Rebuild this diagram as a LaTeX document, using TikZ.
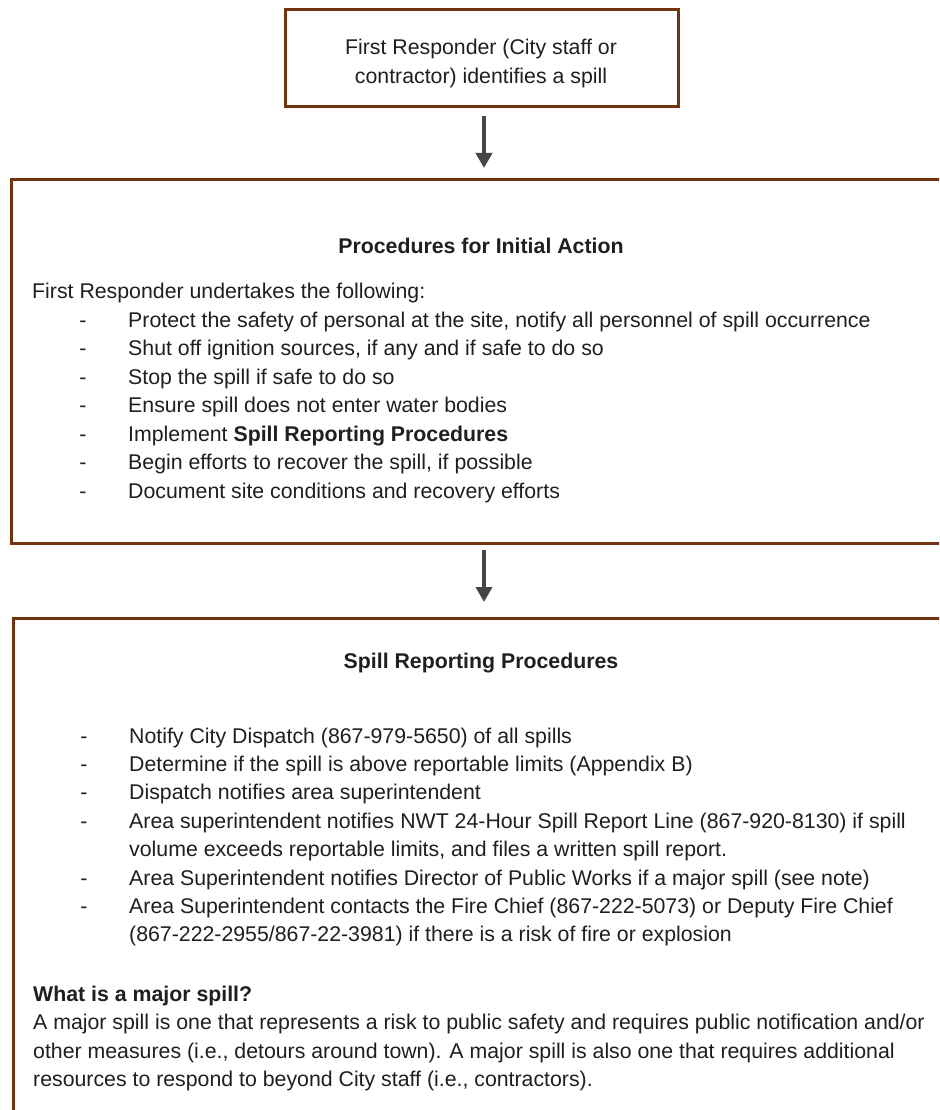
\documentclass[tikz,border=0pt]{standalone}
\usepackage{fontspec}
\setmainfont{Liberation Sans}
\usepackage{xcolor}
\usetikzlibrary{arrows.meta,positioning,calc}
\definecolor{boxbrown}{RGB}{112,52,16}
\definecolor{arrgray}{RGB}{70,70,70}

\begin{document}
\begin{tikzpicture}[x=1pt,y=-1pt,>=Stealth]
\tikzstyle{box}=[draw=boxbrown,line width=2.6pt,inner sep=0pt,anchor=north west]
\tikzstyle{t}=[inner sep=0pt,anchor=base west,text=black!88,font=\fontsize{21.3}{28.5}\selectfont]
\tikzstyle{tc}=[t,anchor=base]
\tikzstyle{bul}=[t,anchor=base]
\tikzstyle{arr}=[-{Triangle[width=16pt,length=15pt]},line width=3.6pt,draw=arrgray,fill=arrgray]
\useasboundingbox (0,0) rectangle (939,1110);
\fill[white] (0,0) rectangle (939,1110);
\clip (0,0) rectangle (939,1110);
\node[box,minimum width=393pt,minimum height=97pt] (top) at (284,8) {};
\node[box,minimum width=960pt,minimum height=364pt] (mid) at (10,178) {};
\node[box,minimum width=960pt,minimum height=540pt] (bot) at (12,617) {};
\coordinate (ax) at (484,0);
\draw[arr,shorten <=8pt,shorten >=10pt] (top.south -| ax) -- (mid.north -| ax);
\draw[arr,shorten <=5pt,shorten >=15pt] (mid.south -| ax) -- (bot.north -| ax);
\node[tc] (s1) at (481,55) {First Responder (City staff or};
\node[tc] (s2) at (481,84) {contractor) identifies a spill};
\node[tc] (ptitle) at (481,253) {\textbf{Procedures for Initial Action}};
\node[t] (intro) at (32,298) {First Responder undertakes the following:};
\node[bul] (d1) at (83,327) {-};
\node[bul] (d2) at (83,355.5) {-};
\node[bul] (d3) at (83,384) {-};
\node[bul] (d4) at (83,412.5) {-};
\node[bul] (d5) at (83,441) {-};
\node[bul] (d6) at (83,469.5) {-};
\node[bul] (d7) at (83,498) {-};
\node[t] (i1) at (128,327) {Protect the safety of personal at the site, notify all personnel of spill occurrence};
\node[t] (i2) at (128,355.5) {Shut off ignition sources, if any and if safe to do so};
\node[t] (i3) at (128,384) {Stop the spill if safe to do so};
\node[t] (i4) at (128,412.5) {Ensure spill does not enter water bodies};
\node[t] (i5) at (128,441) {Implement \textbf{Spill Reporting Procedures}};
\node[t] (i6) at (128,469.5) {Begin efforts to recover the spill, if possible};
\node[t] (i7) at (128,498) {Document site conditions and recovery efforts};
\node[tc] (rtitle) at (481,668) {\textbf{Spill Reporting Procedures}};
\node[bul] (e1) at (84,743) {-};
\node[bul] (e2) at (84,771.4) {-};
\node[bul] (e3) at (84,799.8) {-};
\node[bul] (e4) at (84,828.2) {-};
\node[bul] (e5) at (84,885) {-};
\node[bul] (e6) at (84,913.4) {-};
\node[t] (r1) at (129,743) {Notify City Dispatch (867-979-5650) of all spills};
\node[t] (r2) at (129,771.4) {Determine if the spill is above reportable limits (Appendix B)};
\node[t] (r3) at (129,799.8) {Dispatch notifies area superintendent};
\node[t] (r4) at (129,828.2) {Area superintendent notifies NWT 24-Hour Spill Report Line (867-920-8130) if spill};
\node[t] (r4b) at (129,856.6) {volume exceeds reportable limits, and files a written spill report.};
\node[t] (r5) at (129,885) {Area Superintendent notifies Director of Public Works if a major spill (see note)};
\node[t] (r6) at (129,913.4) {Area Superintendent contacts the Fire Chief (867-222-5073) or Deputy Fire Chief};
\node[t] (r6b) at (129,941.8) {(867-222-2955/867-22-3981) if there is a risk of fire or explosion};
\node[t] (q) at (33,1001) {\textbf{What is a major spill?}};
\node[t] (a1) at (33,1029.5) {A major spill is one that represents a risk to public safety and requires public notification and/or};
\node[t] (a2) at (33,1058) {other measures (i.e., detours around town). A major spill is also one that requires additional};
\node[t] (a3) at (33,1086.5) {resources to respond to beyond City staff (i.e., contractors).};
\end{tikzpicture}
\end{document}
